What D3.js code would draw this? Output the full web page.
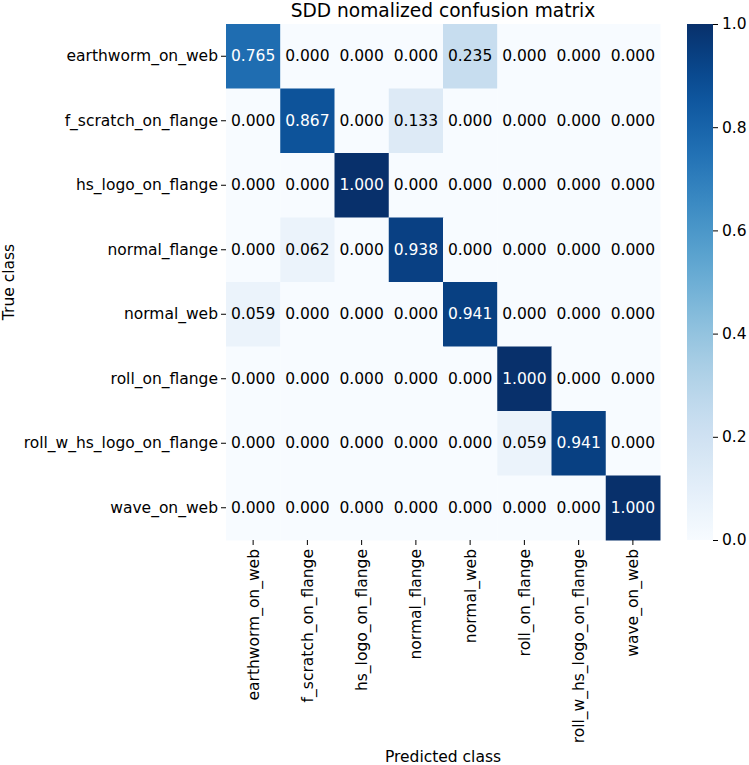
<!DOCTYPE html>
<html>
<head>
<meta charset="utf-8">
<script src="https://cdn.jsdelivr.net/npm/d3@7"></script>
<style>
  body { margin: 0; background: #fff; }
  text { font-family: "DejaVu Sans", sans-serif; fill: #000; }
</style>
</head>
<body>
<svg id="chart" width="749" height="765"></svg>
<script>
// class names (rows = true, cols = predicted)
const classes = ["earthworm_on_web", "f_scratch_on_flange", "hs_logo_on_flange", "normal_flange",
  "normal_web", "roll_on_flange", "roll_w_hs_logo_on_flange", "wave_on_web"];

const row0 = [0.765, 0, 0, 0, 0.235, 0, 0, 0];
const row1 = [0, 0.867, 0, 0.133, 0, 0, 0, 0];
const row2 = [0, 0, 1.0, 0, 0, 0, 0, 0];
const row3 = [0, 0.062, 0, 0.938, 0, 0, 0, 0];
const row4 = [0.059, 0, 0, 0, 0.941, 0, 0, 0];
const row5 = [0, 0, 0, 0, 0, 1.0, 0, 0];
const row6 = [0, 0, 0, 0, 0, 0.059, 0.941, 0];
const row7 = [0, 0, 0, 0, 0, 0, 0, 1.0];
const matrix = [row0, row1, row2, row3, row4, row5, row6, row7];

const cbTicks = [0, 0.2, 0.4, 0.6, 0.8, 1.0];

var svg = d3.select("#chart");
var mLeft = 226, mTop = 24, w = 434, h = 516;
var fs = "15.5px";

var x = d3.scaleBand().domain(classes).range([mLeft, mLeft + w]);
var y = d3.scaleBand().domain(classes).range([mTop, mTop + h]);
var color = d3.scaleSequential(d3.interpolateBlues).domain([0, 1]);

// cells
var cells = [];
matrix.forEach((r, i) => r.forEach((v, j) => cells.push({row: classes[i], col: classes[j], v: v})));

svg.append("g").selectAll("rect")
  .data(cells).enter().append("rect")
    .attr("x", d => x(d.col))
    .attr("y", d => y(d.row))
    .attr("width", x.bandwidth() + 0.5)
    .attr("height", y.bandwidth() + 0.5)
    .attr("fill", d => color(d.v));

svg.append("g").selectAll("text")
  .data(cells).enter().append("text")
    .attr("x", d => x(d.col) + x.bandwidth() / 2)
    .attr("y", d => y(d.row) + y.bandwidth() / 2)
    .attr("text-anchor", "middle")
    .attr("dominant-baseline", "central")
    .style("font-size", fs)
    .style("fill", d => {
      var c = d3.rgb(color(d.v));
      var lum = [c.r, c.g, c.b].map(u => { u /= 255; return u <= 0.03928 ? u / 12.92 : Math.pow((u + 0.055) / 1.055, 2.4); });
      var L = 0.2126 * lum[0] + 0.7152 * lum[1] + 0.0722 * lum[2];
      return L > 0.408 ? "#000" : "#fff";
    })
    .text(d => d.v.toFixed(3));

// axes
var yAxis = svg.append("g")
  .attr("transform", "translate(" + mLeft + ",0)")
  .call(d3.axisLeft(y).tickSize(5).tickPadding(3));
yAxis.select(".domain").remove();
yAxis.selectAll("text").style("font-size", fs);

var xAxis = svg.append("g")
  .attr("transform", "translate(0," + (mTop + h) + ")")
  .call(d3.axisBottom(x).tickSize(5).tickPadding(3));
xAxis.select(".domain").remove();
xAxis.selectAll("text")
  .style("font-size", fs)
  .attr("transform", "rotate(-90)")
  .attr("text-anchor", "end")
  .attr("x", -9)
  .attr("y", 0)
  .attr("dy", "0.35em");

// colorbar
var cbX = 687, cbW = 26;
var cy = d3.scaleLinear().domain([0, 1]).range([mTop + h, mTop]);
var grad = svg.append("defs").append("linearGradient")
  .attr("id", "cbgrad").attr("x1", "0").attr("y1", "1").attr("x2", "0").attr("y2", "0");
d3.range(0, 1.001, 0.05).forEach(t => {
  grad.append("stop").attr("offset", t).attr("stop-color", color(t));
});
svg.append("rect")
  .attr("x", cbX).attr("y", mTop).attr("width", cbW).attr("height", h)
  .attr("fill", "url(#cbgrad)");
var cbAxis = svg.append("g")
  .attr("transform", "translate(" + (cbX + cbW) + ",0)")
  .call(d3.axisRight(cy).tickValues(cbTicks).tickFormat(d3.format(".1f")).tickSize(5).tickPadding(4));
cbAxis.select(".domain").remove();
cbAxis.selectAll("text").style("font-size", fs);

// titles
svg.append("text")
  .attr("x", mLeft + w / 2).attr("y", 17)
  .attr("text-anchor", "middle")
  .style("font-size", "18.6px")
  .text("SDD nomalized confusion matrix");

svg.append("text")
  .attr("x", mLeft + w / 2).attr("y", 762)
  .attr("text-anchor", "middle")
  .style("font-size", fs)
  .text("Predicted class");

svg.append("text")
  .attr("transform", "translate(14," + (mTop + h / 2) + ") rotate(-90)")
  .attr("text-anchor", "middle")
  .style("font-size", fs)
  .text("True class");
</script>
</body>
</html>
